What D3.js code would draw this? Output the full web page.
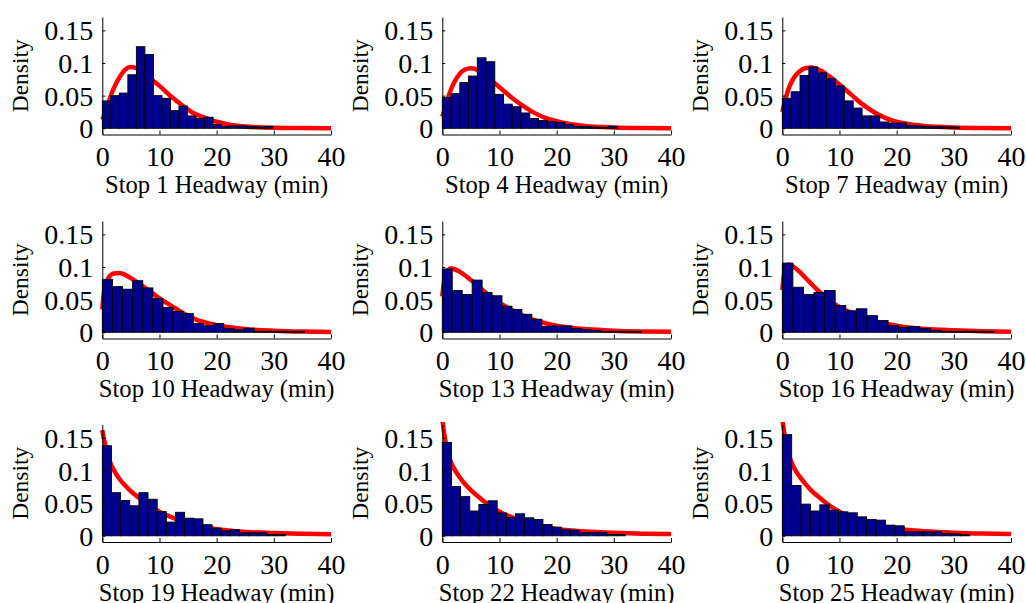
<!DOCTYPE html>
<html>
<head>
<meta charset="utf-8">
<script src="https://cdn.jsdelivr.net/npm/d3@7"></script>
<style>
  body { margin: 0; background: #fff; }
  svg text { font-family: "Liberation Serif", "Times New Roman", serif; fill: #000; }
</style>
</head>
<body>
<div id="chart"></div>
<script>
// stops shown, one panel each (row by row)
let stops = [1, 4, 7, 10, 13, 16, 19, 22, 25]

// histogram bin width (min) per stop, 20 bins each
let binWidths = [1.49, 1.53, 1.55, 1.77, 1.74, 1.85, 1.6, 1.6, 1.64]

// histogram densities, 20 bins per stop
let stop1Density = [0.042, 0.050, 0.054, 0.082, 0.125, 0.113, 0.050, 0.046, 0.027, 0.034, 0.019, 0.015, 0.017, 0.0056, 0.003, 0.0035, 0.0035, 0.0025, 0.002, 0.003]
let stop4Density = [0.047, 0.053, 0.070, 0.080, 0.108, 0.102, 0.052, 0.037, 0.033, 0.0235, 0.015, 0.012, 0.010, 0.009, 0.0056, 0.003, 0.0025, 0.002, 0.0015, 0.003]
let stop7Density = [0.046, 0.056, 0.081, 0.094, 0.085, 0.076, 0.065, 0.042, 0.031, 0.019, 0.019, 0.0097, 0.008, 0.008, 0.0046, 0.0036, 0.0026, 0.0026, 0.002, 0.002]
let stop10Density = [0.081, 0.070, 0.066, 0.079, 0.068, 0.0515, 0.038, 0.032, 0.0286, 0.0133, 0.010, 0.0133, 0.006, 0.004, 0.006, 0.0015, 0.0015, 0.0015, 0.0015, 0.0015]
let stop13Density = [0.097, 0.064, 0.058, 0.080, 0.061, 0.056, 0.040, 0.035, 0.0276, 0.020, 0.0092, 0.0097, 0.0097, 0.006, 0.004, 0.003, 0.0015, 0.0015, 0.0015, 0.0015]
let stop16Density = [0.106, 0.069, 0.058, 0.061, 0.064, 0.041, 0.033, 0.036, 0.0255, 0.018, 0.010, 0.0077, 0.0087, 0.006, 0.003, 0.0015, 0.0015, 0.0015, 0.0015, 0.0015]
let stop19Density = [0.138, 0.066, 0.054, 0.046, 0.066, 0.056, 0.037, 0.021, 0.036, 0.027, 0.026, 0.017, 0.0117, 0.0077, 0.0092, 0.0046, 0.0046, 0.0046, 0.002, 0.002]
let stop22Density = [0.143, 0.0755, 0.060, 0.038, 0.048, 0.0536, 0.035, 0.028, 0.0337, 0.0276, 0.025, 0.0173, 0.0133, 0.0092, 0.0087, 0.0046, 0.005, 0.005, 0.002, 0.002]
let stop25Density = [0.155, 0.077, 0.0485, 0.038, 0.0474, 0.0393, 0.0367, 0.0352, 0.029, 0.025, 0.024, 0.0163, 0.0153, 0.0061, 0.0061, 0.0061, 0.0061, 0.0036, 0.003, 0.0015]

// fitted density curve, read at these headways
let fitX = [0, 0.25, 0.5, 1, 1.5, 2, 3, 4, 5, 6, 7, 8, 10, 12, 14, 16, 18, 20, 22, 25, 30, 35, 40]
let stop1Fit = [0.013, 0.018, 0.024, 0.037, 0.050, 0.061, 0.078, 0.090, 0.094, 0.092, 0.087, 0.079, 0.065, 0.049, 0.035, 0.023, 0.016, 0.010, 0.006, 0.0028, 0.0008, 0.0003, 0.0001]
let stop4Fit = [0.018, 0.025, 0.032, 0.047, 0.059, 0.069, 0.083, 0.090, 0.092, 0.090, 0.085, 0.078, 0.063, 0.048, 0.035, 0.024, 0.016, 0.011, 0.007, 0.0035, 0.0012, 0.0004, 0.0002]
let stop7Fit = [0.025, 0.034, 0.043, 0.058, 0.069, 0.077, 0.087, 0.092, 0.093, 0.091, 0.087, 0.081, 0.067, 0.052, 0.037, 0.025, 0.016, 0.010, 0.0065, 0.0035, 0.0012, 0.0004, 0.0002]
let stop10Fit = [0.035, 0.058, 0.070, 0.082, 0.088, 0.090, 0.091, 0.088, 0.083, 0.077, 0.071, 0.065, 0.052, 0.041, 0.030, 0.021, 0.015, 0.011, 0.008, 0.005, 0.0025, 0.0012, 0.0006]
let stop13Fit = [0.055, 0.075, 0.086, 0.095, 0.098, 0.097, 0.093, 0.087, 0.080, 0.073, 0.065, 0.058, 0.045, 0.035, 0.026, 0.019, 0.014, 0.010, 0.0075, 0.005, 0.0025, 0.0013, 0.0007]
let stop16Fit = [0.065, 0.085, 0.097, 0.104, 0.103, 0.100, 0.093, 0.084, 0.075, 0.066, 0.058, 0.050, 0.039, 0.030, 0.023, 0.017, 0.013, 0.010, 0.0075, 0.005, 0.003, 0.0017, 0.001]
let stop19Fit = [0.162, 0.150, 0.140, 0.122, 0.110, 0.101, 0.087, 0.077, 0.068, 0.061, 0.054, 0.048, 0.037, 0.029, 0.022, 0.017, 0.013, 0.010, 0.008, 0.006, 0.0042, 0.0032, 0.0025]
let stop22Fit = [0.180, 0.162, 0.147, 0.126, 0.113, 0.104, 0.090, 0.079, 0.070, 0.062, 0.055, 0.048, 0.037, 0.029, 0.022, 0.017, 0.013, 0.0105, 0.0085, 0.0065, 0.0045, 0.0033, 0.0026]
let stop25Fit = [0.180, 0.163, 0.149, 0.128, 0.115, 0.105, 0.091, 0.080, 0.070, 0.062, 0.055, 0.048, 0.037, 0.029, 0.022, 0.017, 0.0135, 0.011, 0.009, 0.007, 0.0048, 0.0035, 0.0028]

let xTicks = [0, 10, 20, 30, 40]
let yTicks = [0, 0.05, 0.1, 0.15]
let yTickLabels = ["0", "0.05", "0.1", "0.15"]

let densities = [stop1Density, stop4Density, stop7Density, stop10Density, stop13Density,
    stop16Density, stop19Density, stop22Density, stop25Density]
let fits = [stop1Fit, stop4Fit, stop7Fit, stop10Fit, stop13Fit, stop16Fit, stop19Fit, stop22Fit, stop25Fit]

let width = 1026
let height = 603
let colLefts = [102.3, 442.3, 782.3]
let rowTops = [17, 221, 424.5]
let panelWidth = 228.7
let panelHeight = 117.5

let barColor = "#00008f"
let fitColor = "#ff0000"

let svg = d3.select("#chart").append("svg")
    .attr("width", width)
    .attr("height", height)

let x = d3.scaleLinear().domain([0, 40]).range([0, panelWidth])
let y = d3.scaleLinear().domain([-0.0095, 0.1705]).range([panelHeight, 0])

let line = d3.line()
    .x(d => x(d[0]))
    .y(d => y(d[1]))
    .curve(d3.curveMonotoneX)

let defs = svg.append("defs")

stops.forEach((stop, i) => {
    let col = i % 3
    let row = Math.floor(i / 3)
    let g = svg.append("g")
        .attr("transform", `translate(${colLefts[col]}, ${rowTops[row]})`)

    // the thick fit line is allowed to spill a little past the axes box
    defs.append("clipPath")
        .attr("id", `clip${i}`)
        .append("rect")
        .attr("x", -2.5).attr("y", -2.5)
        .attr("width", panelWidth + 5)
        .attr("height", panelHeight + 2.5)

    let plot = g.append("g").attr("clip-path", `url(#clip${i})`)

    // fitted curve (drawn under the bars)
    plot.append("path")
        .datum(fitX.map((v, k) => [v, fits[i][k]]))
        .attr("d", line)
        .attr("fill", "none")
        .attr("stroke", fitColor)
        .attr("stroke-width", 4.5)

    // histogram bars
    let w = binWidths[i]
    plot.selectAll("rect.bar")
        .data(densities[i])
        .join("rect")
        .attr("class", "bar")
        .attr("x", (d, k) => x(k * w))
        .attr("width", x(w) - x(0))
        .attr("y", d => y(d))
        .attr("height", d => y(0) - y(d))
        .attr("fill", barColor)
        .attr("stroke", "#000")
        .attr("stroke-width", 0.9)

    // axes, ticks pointing inward
    let yAxis = g.append("g")
        .call(d3.axisLeft(y).tickValues(yTicks)
            .tickFormat((d, k) => yTickLabels[k])
            .tickSizeInner(-3).tickSizeOuter(0).tickPadding(9))
    let xAxis = g.append("g")
        .attr("transform", `translate(0, ${panelHeight})`)
        .call(d3.axisBottom(x).tickValues(xTicks)
            .tickSizeInner(-4).tickSizeOuter(0).tickPadding(12))

    for (let a of [xAxis, yAxis]) {
        a.attr("font-family", null).attr("font-size", null)
        a.select(".domain").attr("stroke", "#000").attr("stroke-width", 1)
        a.selectAll(".tick line").attr("stroke", "#000")
        a.selectAll(".tick text").style("font-size", "28px").attr("fill", "#000")
    }
    yAxis.selectAll(".tick text").attr("dy", "0.34em")

    g.append("text")
        .attr("x", panelWidth / 2)
        .attr("y", panelHeight + 58.6)
        .attr("text-anchor", "middle")
        .style("font-size", "24.6px")
        .text(`Stop ${stop} Headway (min)`)

    g.append("text")
        .attr("transform", `translate(-74, ${panelHeight / 2}) rotate(-90)`)
        .attr("text-anchor", "middle")
        .style("font-size", "23.5px")
        .text("Density")
})
</script>
</body>
</html>
